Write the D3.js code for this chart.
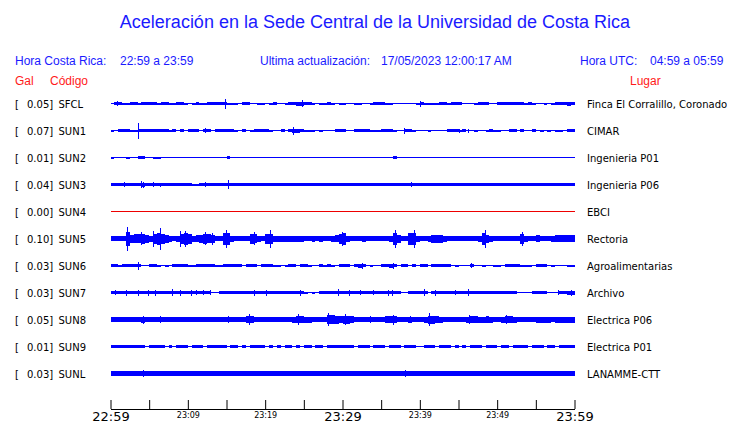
<!DOCTYPE html>
<html><head><meta charset="utf-8">
<script src="https://cdn.jsdelivr.net/npm/d3@7"></script>
<style>body{margin:0;background:#fff} svg{display:block}</style>
</head><body>
<svg id="c" width="740" height="423"></svg>
<script>
// ---------- DATA ----------
const title = "Aceleración en la Sede Central de la Universidad de Costa Rica";
const horaCR = ["Hora Costa Rica:", "22:59 a 23:59"];
const actualizacion = ["Ultima actualización:", "17/05/2023 12:00:17 AM"];
const horaUTC = ["Hora UTC:", "04:59 a 05:59"];
const colHeads = ["Gal", "Código", "Lugar"];
const codes = ["SFCL","SUN1","SUN2","SUN3","SUN4","SUN5","SUN6","SUN7","SUN8","SUN9","SUNL"];
const gals = ["0.05","0.07","0.01","0.04","0.00","0.10","0.03","0.03","0.05","0.01","0.03"];
const places = ["Finca El Corralillo, Coronado","CIMAR","Ingenieria P01","Ingenieria P06","EBCI","Rectoria","Agroalimentarias","Archivo","Electrica P06","Electrica P01","LANAMME-CTT"];
const startTime = new Date(2023, 4, 16, 22, 59);
const endTime = new Date(2023, 4, 16, 23, 59);
const tickLabels = ["22:59","23:09","23:19","23:29","23:39","23:49","23:59"];
const bigTickLabels = ["22:59","23:29","23:59"];

// envelope half-amplitude per 30-second bin (120 bins)
const sfcl = [0,1.5,1.5,1,1,1.5,1.5,1,1.5,1.5, 1.5,1.5,1,1.5,1.5,1,1,1.5,1.5,1, 0,1,1.5,1,1,1.5,1.5,1.5,1.5,1.5, 1,1,1,0,1.5,1.5,0,0,1,1,
  0,1,1.5,0,0,1,1.5,1.5,2,2, 1.5,1.5,1,0,1,1,1.5,1,0,1, 1,0,0,1,1,0,0,1,1.5,1.5, 1.5,1,1,0,0,0,0,0,0,1,
  1.5,1,1,1,1,1.5,1.5,1,1.5,1.5, 1.5,0,0,0,1,1.5,1.5,1.5,0,0, 1.5,1.5,1.5,1.5,1.5,1.5,1.5,1,1.5,1, 0,0,1,0,1,1.5,1.5,1.5,2,1.5];
const sun1 = [1,0,1.5,1.5,1.5,1,1,1.5,1.5,1.5, 1.5,1.5,1.5,1.5,1.5,1,1.5,0,1.5,0, 1.5,1.5,1.5,0,1.5,1.5,0,1.5,1.5,1.5, 1.5,1.5,1,0,1.5,0,1,1.5,1.5,1.5,
  1.5,1,0,0,1.5,0,1.5,2,2,1.5, 1,1,1,0,1,0,0,0,1.5,1.5, 1.5,0,0,1.5,1.5,1.5,1.5,1,1,1, 1.5,1.5,1.5,1,0,0,1.5,1.5,1,0,
  0,0,1,0,0,0,0,1.5,1.5,1.5, 1,1.5,0,0,1,0,0,1,1.5,1, 1,0,0,1.5,1.5,0,1.5,0,0,1.5, 0,1,0,1,0,1,1,0,1.5,1.5];
const sun2 = [1,0,0,0,1,0,0,1.5,1.2,0, 0,1,1,0,0,0,0,0,0,0, 0,0,0,0,0.8,0,0,0,0,0, 1.5,0,0,0,0,0,0,0,0,0,
  0,0,0,0,0,0,0.8,0,0,0, 0,0,0,0,0,0,0,0,0,0, 0,0,0,0,0,0,0,0,0,0, 0,0,0,1.2,0,0,0,0,0,0,
  0,0,0,0,0,0,0.8,0,0,0, 0,0,0,0,0,0,0,0,0,0, 0,0,0.8,0,0,0,0,0,0,0, 0,0,0,0,0,0,0,0,0.8,0];
const sun3 = [1.5,1.5,1.5,1.7,1.5,1.5,1.5,1.7,2,1.7, 1.5,1.7,1.5,1.5,1.5,1.5,1.5,1.5,1.5,1.5, 1.5,1,1,1.2,1.5,1.5,1.5,1.5,1.5,1.5, 1.7,1.5,1.5,1.5,1.5,1.5,1.5,1.5,1.5,1.5,
  1.5,1.5,1.5,1.5,1.5,1.5,1.5,1.5,1.5,1.2, 1.5,1.5,1.2,1.5,1.5,1.5,1.2,1.5,1.5,1.5, 1.5,1.5,1.5,1.5,1.5,1.5,1.5,1.5,1.5,1.5, 1.5,1.5,1.5,1.5,1.5,1.5,1.5,1.7,1.5,1.5,
  1.5,1.5,1.5,1.5,1.5,1.5,1.2,1.5,1.5,1.5, 1.5,1.5,1.5,1.5,1.5,1.5,1.5,1.5,1.5,1.5, 1.5,1.5,1.5,1.5,1.5,1.5,1.2,1.5,1.5,1.5, 1.2,1.5,1.5,1.5,1.5,1.5,1.5,1.5,1.5,1.5];
const sun4 = [0,0,0,0,0,0,0,0,0,0, 0,0,0,0,0,0,0,0,0,0, 0,0,0,0,0,0,0,0,0,0, 0,0,0,0,0,0,0,0,0,0,
  0,0,0,0,0,0,0,0,0,0, 0,0,0,0,0,0,0,0,0,0, 0,0,0,0,0,0,0,0,0,0, 0,0,0,0,0,0,0,0,0,0,
  0,0,0,0,0,0,0,0,0,0, 0,0,0,0,0,0,0,0,0,0, 0,0,0,0,0,0,0,0,0,0, 0,0,0,0,0,0,0,0,0,0];
const sun5 = [2.5,2.5,2.5,2.5,7,4,4.5,4.5,5,4, 3,5,6,5,4,3,2.5,3,5,6, 5,3,3.5,4,5,4.5,4,2.5,2.5,6, 6,3,2.5,2.5,2.5,2.5,5,4.5,3,2.5,
  5,5,3,3,3,3,3,3,3,3, 2.5,2.5,3,2.5,3,2.5,2.5,3,3.5,5, 6,3,2.5,2.5,2.5,3,2.5,2.5,2.5,2.5, 2.5,2.5,3,6,4,2.5,2.5,6,6,3,
  2.5,2.5,3,4,4,4,3,2.5,2.5,2.5, 2.5,2.5,2.5,2.5,2.5,3,6,4,3,2.5, 2.5,2.5,2.5,2.5,2.5,2.5,5,3,2.5,2.5, 3.5,2.5,2.5,2.5,3,3.5,3.5,3.5,3.5,3.5];
const sun6 = [1.5,1.5,1,1.5,1.5,1.5,1.5,1.5,0,0, 1.5,1.5,1,0,1,0,1.5,1.5,1.5,1.5, 1,1,1.5,1.5,1.5,1.5,1.5,1,1,1.5, 1.5,1.5,1.5,1.5,0,1.5,1.5,1.5,0,1.5,
  1.5,1.5,1,1,0,1,1.5,1.5,0,1.5, 1.5,1,0,0,1.5,1,1.5,1,0,1.5, 1.5,1.5,0,1.5,2,1.5,0,1,0,0, 1.5,1.5,2,1.5,0,1.5,1.5,0,1.5,0,
  1.5,1.5,0,1.5,1.5,1.5,1.5,1.5,0,1, 0,0,0,1.5,0,0,1,0,0,1, 1,0,1.5,1.5,1.5,1.5,1,1,1,0, 1.5,1.5,1.5,0,1,0,0,0,1,1];
const sun7 = [1.7,1.7,1.7,1.7,1.7,1.7,1.7,1.7,1.7,1.7, 1.7,1.7,1.7,1.7,1.7,1.7,1.7,1.7,1.7,1.7, 1.7,1.7,1.7,1.7,1.7,1.7,0.8,0.8,1.5,1.5, 1.5,1.5,1.5,1.5,1.5,1.5,1.5,1.7,1.5,1.5,
  1.7,1.5,1.5,1.5,1.5,1.5,1.5,1.5,1.5,1.7, 1,0,1,0.8,1.5,1.5,1.5,1.5,1.5,1.7, 1.7,1.7,1.7,1.2,1.5,1.2,1.5,1.2,1.5,1.2, 1.5,1.7,1.7,1.5,1.5,0.8,0.8,1.5,1.5,1.5,
  1.7,1.5,0.8,1.7,1.5,1.5,1.5,1.5,1.5,1.5, 1.5,1.7,1.5,1.5,1.5,1.5,1.5,1.5,1.5,1.5, 1.5,1.5,1.5,1.5,1.5,0.8,0,0.8,0.8,1.5, 1.5,1.5,1.5,0.8,0,0.8,1.5,1.2,2,2];
const sun8 = [2.3,2.3,2.3,2.3,2.3,2.3,2.3,2.5,3,2.5, 2.3,2.3,2.3,2.8,2.3,2.3,2.3,2.3,2.5,2.3, 2.3,2.3,2.3,2.5,2.3,2.3,2.3,2.3,2.3,2.5, 2.8,2.3,2.3,2.3,2.3,3.5,3.5,2.5,2.3,2.3,
  2.3,2.3,2.3,2.3,2.3,2.3,2.5,3,3.5,3.5, 3,3,2.5,2.3,2.3,2.5,4.5,4.5,4,3.5, 4,4,3.5,2.5,2.3,2.3,2.3,2.8,2.3,2.3, 2.5,3.5,3.5,3.5,2.8,2.3,2.3,3,2.3,2.3,
  2.3,3,4,4,3.5,3,2.5,2.3,2.3,2.3, 2.3,2.5,3,3.5,3.5,3,3,3.5,3,2.5, 2.5,3,3.5,3.5,3,2.8,2.8,2.8,2.5,2.8, 3,3,3,3,2.8,3,3,3,3,3];
const sun9 = [1.2,1.2,1.2,1.2,1.2,1.2,1.2,1.2,1.2,0.6, 1.2,1.2,1.2,1.2,0.6,1.2,0.6,1.2,1.2,1.2, 0.6,1.2,1.2,1.2,0.6,1.2,1.2,1.2,1.2,1.2, 0.6,1.2,1.2,0.6,1.2,0.6,1.2,1.2,1.2,1.2,
  0.6,1.2,0.6,1.2,0.6,1.2,1.2,0.6,1.2,0.6, 1.2,1.2,0,1.2,1.2,0.6,1.2,1.2,1.2,1.2, 1.2,1.2,1.2,0.6,1.2,1.2,1.2,0.6,1.2,1.2, 1.2,0.6,1.2,1.2,1.2,0.6,1.2,1.2,1.2,0.6,
  0.6,1.2,1.2,1.2,0.6,1.2,1.2,1.2,0.6,1.2, 0.6,1.2,0.6,1.2,1.2,1.2,0.6,1.2,1.2,1.2, 0.6,1.2,1.2,0.6,1.2,1.2,1.2,1.2,0.6,1.2, 1.2,1.2,0.6,1.2,1.2,0.6,1.2,1.2,1.2,1.2];
const sunl = [2.5,2.5,2.5,2.5,2.5,2.5,2.5,2.5,2.8,2.5, 2.5,2.2,2.5,2.5,2.5,2.5,2.2,2.5,2.5,2.5, 2.5,2.5,2.2,2.5,2.5,2.5,2.5,2.2,2.5,2.5, 2.5,2.5,2.5,2.5,2.2,2.5,2.5,2.5,2.5,2.5,
  2.2,2.5,2.5,2.5,2.5,2.5,2.2,2.5,2.5,2.5, 2.5,2.5,2.2,2.5,2.5,2.5,2.5,2.5,2.2,2.5, 2.5,2.5,2.5,2.2,2.5,2.5,2.5,2.5,2.5,2.2, 2.5,2.5,2.5,2.5,2.5,2.5,2.8,2.5,2.5,2.2,
  2.5,2.5,2.5,2.5,2.5,2.2,2.5,2.5,2.5,2.5, 2.5,2.2,2.5,2.5,2.5,2.5,2.5,2.2,2.5,2.5, 2.5,2.5,2.5,2.2,2.5,2.5,2.5,2.5,2.5,2.2, 2.5,2.5,2.5,2.5,2.2,2.5,2.5,2.5,2.5,2.5];

// isolated peaks: [code, minutes after start, half-amplitude]
const spikes = [
  ["SFCL",0.9,2.5],["SFCL",14.8,5],["SFCL",24.8,3.5],["SFCL",40.0,3],
  ["SUN1",3.6,8],["SUN1",12.2,2.5],["SUN1",23.6,4],["SUN1",38.0,3],["SUN1",45.1,2],["SUN1",46.2,2],
  ["SUN3",1.7,2.5],["SUN3",3.9,3.5],["SUN3",4.2,3],["SUN3",5.5,2.5],["SUN3",6.4,2],["SUN3",12.2,2.5],["SUN3",15.2,4.5],["SUN3",38.9,2.5],
  ["SUN5",2.1,12],["SUN5",3.9,6.5],["SUN5",5.5,8],["SUN5",6.4,11],["SUN5",9.0,8],["SUN5",9.6,8],["SUN5",12.2,6.5],["SUN5",13.1,6],
  ["SUN5",14.9,9],["SUN5",18.6,6.5],["SUN5",20.6,9],["SUN5",29.95,7],["SUN5",36.8,9],["SUN5",39.2,9],["SUN5",48.4,9],["SUN5",53.2,7],
  ["SUN6",3.5,4],["SUN6",32.5,3],["SUN6",36.5,3],["SUN6",46.6,2.5],
  ["SUN7",0.6,2.5],["SUN7",2.0,3],["SUN7",3.6,3],["SUN7",4.8,3],["SUN7",5.7,3],["SUN7",8.0,3.5],["SUN7",9.0,3],["SUN7",10.4,3],
  ["SUN7",11.0,2.5],["SUN7",12.0,2.5],["SUN7",12.9,2.5],["SUN7",18.5,3],["SUN7",20.1,3],["SUN7",24.5,3],["SUN7",29.4,3.5],["SUN7",30.8,3],
  ["SUN7",32.3,2.5],["SUN7",34.0,2.5],["SUN7",35.9,3],["SUN7",36.4,3],["SUN7",40.5,3.5],["SUN7",42.0,3],["SUN7",44.6,2.5],["SUN7",46.2,3.5],
  ["SUN7",57.9,2.5],["SUN7",59.6,3],
  ["SUN8",4.2,4],["SUN8",6.4,3.5],["SUN8",15.2,3.5],["SUN8",17.9,5.5],["SUN8",24.3,5.5],["SUN8",28.1,6.5],["SUN8",30.3,5.5],["SUN8",33.6,3.5],
  ["SUN8",36.5,5],["SUN8",38.7,3.5],["SUN8",41.2,6.5],["SUN8",46.4,4.5],["SUN8",51.2,4.5],
  ["SUNL",4.2,3.5],["SUNL",38.1,3.5]
];

// ---------- DRAW ----------
const series = {SFCL:sfcl, SUN1:sun1, SUN2:sun2, SUN3:sun3, SUN4:sun4, SUN5:sun5, SUN6:sun6, SUN7:sun7, SUN8:sun8, SUN9:sun9, SUNL:sunl};
const svg = d3.select("#c");
const BLUE = "#1a1aff", RED = "#ff1a1a", TRACE = "#0000ff";
const sans = "'Liberation Sans', Arial, sans-serif";
const dejavu = "'DejaVu Sans', sans-serif";

svg.append("text").attr("x", 375).attr("y", 28).attr("text-anchor", "middle")
  .attr("font-family", sans).attr("font-size", 18).attr("fill", BLUE).text(title);

function hdr(txt, x, y, col) {
  svg.append("text").attr("x", x).attr("y", y).attr("font-family", sans)
    .attr("font-size", 12).attr("fill", col).text(txt);
}
hdr(horaCR[0], 15, 65, BLUE); hdr(horaCR[1], 120, 65, BLUE);
hdr(actualizacion[0], 260, 65, BLUE); hdr(actualizacion[1], 381, 65, BLUE);
hdr(horaUTC[0], 580, 65, BLUE); hdr(horaUTC[1], 650, 65, BLUE);
hdr(colHeads[0], 15, 85, RED); hdr(colHeads[1], 50, 85, RED); hdr(colHeads[2], 630, 85, RED);

const x = d3.scaleTime().domain([startTime, endTime]).range([110.5, 574.5]);
const row = d3.scalePoint().domain(codes).range([103.5, 373.5]);
const amp = d3.scaleLinear().domain([0, 12]).range([0, 12]);
const binMs = 30000;

const g = svg.append("g").attr("shape-rendering", "crispEdges");
codes.forEach((c, k) => {
  const vals = series[c];
  const cy = row(c);
  const col = c === "SUN4" ? "#ee0000" : TRACE;
  const pts = vals.map((a, i) => ({t: new Date(+startTime + i * binMs), a}));
  pts.push({t: endTime, a: vals[vals.length - 1]});
  g.append("line").attr("x1", x(startTime)).attr("x2", x(endTime))
    .attr("y1", cy).attr("y2", cy).attr("stroke", col).attr("stroke-width", 1);
  const area = d3.area().curve(d3.curveStepAfter)
    .x(d => x(d.t)).y0(d => cy + amp(d.a)).y1(d => cy - amp(d.a));
  g.append("path").datum(pts).attr("d", area).attr("fill", col);
  spikes.filter(s => s[0] === c).forEach(s => {
    const tx = Math.round(x(new Date(+startTime + s[1] * 60000))) + 0.5;
    g.append("line").attr("x1", tx).attr("x2", tx)
      .attr("y1", cy - amp(s[2])).attr("y2", cy + amp(s[2]))
      .attr("stroke", col).attr("stroke-width", 1.5);
  });
  // labels
  svg.append("text").attr("x", 15).attr("y", cy + 4).attr("font-family", dejavu)
    .attr("font-size", 10).attr("fill", "#000").text("[");
  svg.append("text").attr("x", 27).attr("y", cy + 4).attr("font-family", dejavu)
    .attr("font-size", 10).attr("fill", "#000").text(gals[k] + "]");
  svg.append("text").attr("x", 58.5).attr("y", cy + 4).attr("font-family", dejavu)
    .attr("font-size", 10).attr("fill", "#000").text(c);
  svg.append("text").attr("x", 587).attr("y", cy + 4).attr("font-family", dejavu)
    .attr("font-size", 10).attr("fill", "#000").text(places[k]);
});

// axis
const tickVals = d3.range(0, 13).map(i => new Date(+startTime + i * 5 * 60000));
const axis = d3.axisBottom(x).tickValues(tickVals).tickSizeInner(-9).tickSizeOuter(0)
  .tickPadding(3).tickFormat((d, i) => i % 2 === 0 ? tickLabels[i / 2] : "");
const ax = svg.append("g").attr("transform", "translate(0,409)").call(axis);
ax.attr("font-family", null).attr("font-size", null);
ax.select(".domain").attr("stroke", "#000");
ax.selectAll(".tick line").attr("stroke", "#000");
ax.selectAll(".tick text").attr("fill", "#000").attr("font-family", dejavu)
  .attr("font-size", function() { return bigTickLabels.includes(this.textContent) ? 13 : 8; });
</script>
</body></html>
